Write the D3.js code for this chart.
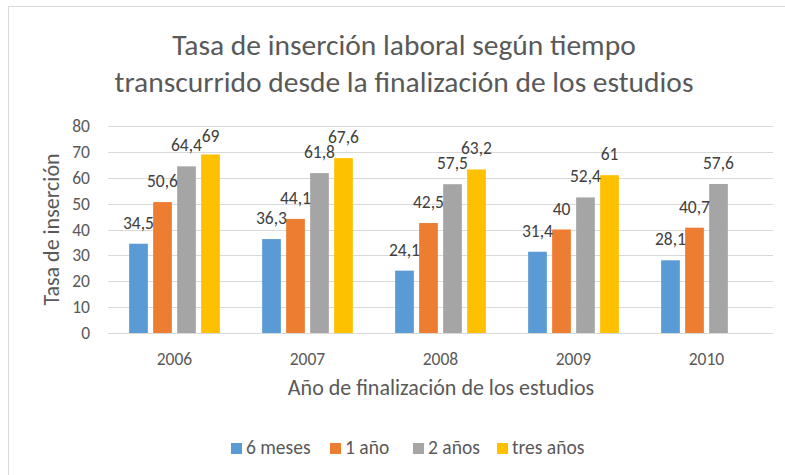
<!DOCTYPE html>
<html>
<head>
<meta charset="utf-8">
<script src="https://cdn.jsdelivr.net/npm/d3@7"></script>
<style>
  body { margin: 0; background: #fff; }
  text { font-family: Carlito, Calibri, Lato, sans-serif; }
</style>
</head>
<body>
<script>
const years = ["2006", "2007", "2008", "2009", "2010"];
const seriesNames = ["6 meses", "1 año", "2 años", "tres años"];
const seisMeses = [34.5, 36.3, 24.1, 31.4, 28.1];
const unAno = [50.6, 44.1, 42.5, 40, 40.7];
const dosAnos = [64.4, 61.8, 57.5, 52.4, 57.6];
const tresAnos = [69, 67.6, 63.2, 61, null];
const yTicks = [0, 10, 20, 30, 40, 50, 60, 70, 80];
const colors = ["#5B9BD5", "#ED7D31", "#A5A5A5", "#FFC000"];

const allSeries = [seisMeses, unAno, dosAnos, tresAnos];
const w = 785;
const h = 475;

const svg = d3.select("body").append("svg").attr("width", w).attr("height", h);

// chart border
svg.append("rect")
  .attr("x", 8.5).attr("y", 6.5)
  .attr("width", w + 10).attr("height", h + 10)
  .attr("fill", "none").attr("stroke", "#D9D9D9");

// title
const title = svg.append("text")
  .attr("text-anchor", "middle")
  .attr("fill", "#595959")
  .attr("font-size", 29.5);
title.append("tspan").attr("x", 404).attr("y", 55).text("Tasa de inserción laboral según tiempo");
title.append("tspan").attr("x", 404).attr("y", 92).text("transcurrido desde la finalización de los estudios");

const xScale = d3.scaleBand().domain(years).range([108, 773]);
const yScale = d3.scaleLinear().domain([0, 80]).range([333, 126]);
const x1 = d3.scaleBand().domain(seriesNames).range([0, 96]);
const groupOffset = (xScale.bandwidth() - 96) / 2;
const barW = 18.7;
const barPad = (x1.bandwidth() - barW) / 2;

// gridlines
svg.append("g")
  .selectAll("line")
  .data(yTicks)
  .enter()
  .append("line")
  .attr("x1", 108).attr("x2", 773)
  .attr("y1", (d) => Math.round(yScale(d)) + 0.5)
  .attr("y2", (d) => Math.round(yScale(d)) + 0.5)
  .attr("stroke", "#D9D9D9");

// y axis labels
svg.append("g")
  .selectAll("text")
  .data(yTicks)
  .enter()
  .append("text")
  .attr("x", 90)
  .attr("y", (d) => yScale(d) + 6)
  .attr("text-anchor", "end")
  .attr("font-size", 17.5)
  .attr("fill", "#595959")
  .text((d) => d);

// x axis labels
svg.append("g")
  .selectAll("text")
  .data(years)
  .enter()
  .append("text")
  .attr("x", (d) => xScale(d) + xScale.bandwidth() / 2)
  .attr("y", 365)
  .attr("text-anchor", "middle")
  .attr("font-size", 17.5)
  .attr("fill", "#595959")
  .text((d) => d);

// axis titles
svg.append("text")
  .attr("x", 441).attr("y", 395)
  .attr("text-anchor", "middle")
  .attr("font-size", 22)
  .attr("fill", "#595959")
  .text("Año de finalización de los estudios");

svg.append("text")
  .attr("transform", "translate(59, 229.5) rotate(-90)")
  .attr("text-anchor", "middle")
  .attr("font-size", 22)
  .attr("fill", "#595959")
  .text("Tasa de inserción");

// bars
const cells = [];
allSeries.forEach((vals, si) => {
  vals.forEach((v, yi) => {
    if (v !== null) cells.push({ s: seriesNames[si], si: si, year: years[yi], v: v });
  });
});

const barX = (d) => xScale(d.year) + groupOffset + x1(d.s) + barPad;

svg.append("g")
  .selectAll("rect")
  .data(cells)
  .enter()
  .append("rect")
  .attr("x", barX)
  .attr("y", (d) => yScale(d.v))
  .attr("width", barW)
  .attr("height", (d) => yScale(0) - yScale(d.v))
  .attr("fill", (d) => colors[d.si]);

// data labels
svg.append("g")
  .selectAll("text")
  .data(cells)
  .enter()
  .append("text")
  .attr("x", (d) => barX(d) + barW / 2)
  .attr("y", (d) => Math.max(yScale(d.v) - 15, 142))
  .attr("text-anchor", "middle")
  .attr("font-size", 17.5)
  .attr("fill", "#404040")
  .text((d) => String(d.v).replace(".", ","));

// legend
const legendX = [231, 330, 413, 497];
const legend = svg.append("g")
  .selectAll("g")
  .data(seriesNames)
  .enter()
  .append("g")
  .attr("transform", (d, i) => `translate(${legendX[i]}, 0)`);
legend.append("rect")
  .attr("x", 0).attr("y", 443)
  .attr("width", 11).attr("height", 11)
  .attr("fill", (d, i) => colors[i]);
legend.append("text")
  .attr("x", 15).attr("y", 454)
  .attr("font-size", 19.5)
  .attr("fill", "#595959")
  .text((d) => d);
</script>
</body>
</html>
